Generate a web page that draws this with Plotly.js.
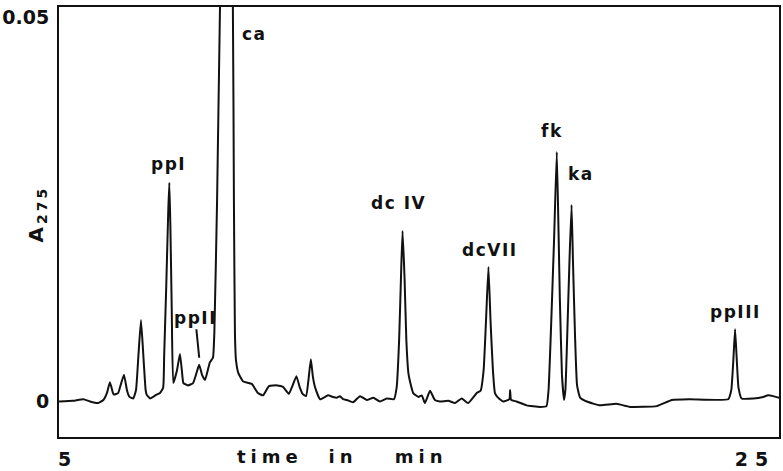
<!DOCTYPE html>
<html>
<head>
<meta charset="utf-8">
<script src="https://cdn.plot.ly/plotly-3.0.1.min.js"></script>
<style>
  html, body { margin: 0; padding: 0; background: #fff; }
  #chart { width: 783px; height: 471px; }
  .annotation-text { letter-spacing: 1.5px; }
  g.annotation[data-index="8"] text { letter-spacing: 3px; }
  g.annotation[data-index="9"] text,
  g.annotation[data-index="10"] text,
  g.annotation[data-index="11"] text { letter-spacing: 5px; }
  .xtick text { letter-spacing: 7px; }
</style>
</head>
<body>
<div id="chart"></div>
<script>
// retention time (min)
const time = [
  4.74, 5.15, 5.45, 5.64, 5.88, 6.03, 6.14, 6.22, 6.31, 6.34, 6.46, 6.55, 6.63, 6.72, 6.79, 6.90,
  6.98, 7.05, 7.125, 7.20, 7.26, 7.29, 7.39, 7.58, 7.68, 7.77, 7.80, 7.86, 7.92, 7.95, 7.98, 8.02,
  8.065, 8.17, 8.26, 8.32, 8.36, 8.49, 8.64, 8.76, 8.82, 8.90, 8.99, 9.13, 9.22, 9.26, 9.34, 9.425,
  9.61, 9.80, 9.83, 9.86, 9.89, 9.96, 10.10, 10.35, 10.53, 10.68, 10.85, 11.09, 11.26, 11.43, 11.54,
  11.65, 11.75, 11.83, 11.93, 12.00, 12.07, 12.13, 12.19, 12.34, 12.57, 12.71, 12.83, 12.92, 13.01,
  13.12, 13.30, 13.50, 13.70, 13.89, 14.08, 14.28, 14.49, 14.57, 14.64, 14.70, 14.74, 14.80, 14.85,
  14.91, 14.99, 15.05, 15.20, 15.30, 15.39, 15.54, 15.68, 15.83, 16.07, 16.27, 16.46, 16.65, 16.90,
  17.01, 17.10, 17.17, 17.24, 17.30, 17.37, 17.43, 17.52, 17.67, 17.85, 17.87, 17.90, 18.06, 18.35,
  18.74, 18.93, 18.99, 19.06, 19.15, 19.23, 19.28, 19.32, 19.38, 19.44, 19.48, 19.53, 19.60, 19.66,
  19.70, 19.76, 19.82, 19.91, 20.10, 20.49, 20.97, 21.36, 22.14, 22.58, 23.11, 24.22, 24.31, 24.37,
  24.42, 24.47, 24.52, 24.61, 24.95, 25.24, 25.38, 25.53, 25.70
];
// absorbance at 275 nm
const absorbance = [
  0.0000, 0.0001, 0.0003, 0.0000, -0.0002, 0.0002, 0.0012, 0.0025, 0.0011, 0.0009, 0.0011, 0.0024, 0.0035, 0.0014, 0.0006, 0.0004,
  0.0015, 0.0060, 0.0106, 0.0055, 0.0015, 0.0009, 0.0004, 0.0009, 0.0011, 0.0018, 0.0060, 0.0150, 0.0250, 0.0285, 0.0230, 0.0120,
  0.0024, 0.0040, 0.0062, 0.0038, 0.0024, 0.0021, 0.0024, 0.0040, 0.0048, 0.0035, 0.0028, 0.0051, 0.0057, 0.0089, 0.0262, 0.0514,
  0.0900, 0.0514, 0.0262, 0.0089, 0.0054, 0.0037, 0.0026, 0.0023, 0.0011, 0.0008, 0.0020, 0.0021, 0.0019, 0.0010, 0.0021,
  0.0033, 0.0018, 0.0010, 0.0007, 0.0028, 0.0055, 0.0032, 0.0019, 0.0003, 0.0008, 0.0006, 0.0005, 0.0007, 0.0003,
  0.0002, -0.0001, 0.0007, 0.0002, 0.0005, 0.0000, 0.0004, 0.0003, 0.0019, 0.0080, 0.0171, 0.0222, 0.0158, 0.0080,
  0.0037, 0.0020, 0.0011, 0.0006, 0.0008, -0.0002, 0.0014, 0.0002, 0.0000, 0.0001, -0.0002, 0.0004, -0.0002, 0.0011,
  0.0014, 0.0041, 0.0106, 0.0175, 0.0106, 0.0041, 0.0011, 0.0005, 0.0000, 0.0003, 0.0015, 0.0002, 0.0000, -0.0005,
  -0.0007, -0.0006, 0.0015, 0.0093, 0.0210, 0.0325, 0.0223, 0.0132, 0.0035, 0.0002, 0.0015, 0.0080, 0.0184, 0.0256,
  0.0184, 0.0087, 0.0021, 0.0005, 0.0000, -0.0005, -0.0003, -0.0007, -0.0006, 0.0002, 0.0003, 0.0003, 0.0015, 0.0054,
  0.0094, 0.0054, 0.0018, 0.0004, 0.0004, 0.0006, 0.0008, 0.0007, 0.0005
];
// peak labels
const peakNames = ['ppI', 'ppII', 'ca', 'dc IV', 'dcVII', 'fk', 'ka', 'ppIII'];
const labelTime = [7.94, 8.70, 10.44, 14.61, 17.29, 19.09, 19.93, 24.42];
const labelAbs  = [0.0309, 0.0109, 0.0479, 0.0259, 0.0197, 0.0352, 0.0296, 0.0117];
// ppII pointer target (just above the ppII peak)
const pointerTime = [8.82];
const pointerAbs  = [0.0057];
// axis ticks
const xTickVals = [5, 25];
const xTickText = ['5', '25'];
const yTickVals = [0, 0.05];
const yTickText = ['0', '0.05'];

const FONT = 'DejaVu Sans, Liberation Sans, Arial, sans-serif';
const INK = '#111111';

const annotations = peakNames.map((name, i) => {
  const base = {
    text: name, xref: 'x', yref: 'y',
    font: { family: FONT, size: 17, color: INK, weight: 'bold' },
    xanchor: 'center', yanchor: 'middle'
  };
  if (name === 'ppII') {
    return Object.assign(base, {
      x: pointerTime[0], y: pointerAbs[0], showarrow: true, arrowhead: 0,
      arrowwidth: 2, arrowcolor: INK, standoff: 0,
      axref: 'pixel', ayref: 'pixel', ax: -4, ay: -40
    });
  }
  return Object.assign(base, { x: labelTime[i], y: labelAbs[i], showarrow: false });
});

annotations.push({
  text: 'A<sub>275</sub>', xref: 'paper', yref: 'paper', x: -0.031, y: 0.519,
  textangle: -90, showarrow: false, xanchor: 'center', yanchor: 'middle',
  font: { family: FONT, size: 20, color: INK, weight: 'bold' }
});
[['time', 0.2931], ['in', 0.3938], ['min', 0.5021]].forEach(([w, px]) => {
  annotations.push({
    text: w, xref: 'paper', yref: 'paper', x: px, y: -0.046,
    showarrow: false, xanchor: 'center', yanchor: 'middle', borderpad: 0,
    font: { family: FONT, size: 18, color: INK, weight: 'bold' }
  });
});

const trace = {
  x: time, y: absorbance, type: 'scatter', mode: 'lines',
  line: { color: INK, width: 2, shape: 'spline', smoothing: 0.4 },
  hoverinfo: 'skip'
};

const layout = {
  width: 783, height: 471,
  margin: { l: 59, r: 4, t: 7, b: 34 },
  paper_bgcolor: '#ffffff', plot_bgcolor: '#ffffff',
  showlegend: false,
  xaxis: {
    range: [4.738, 25.699], tickmode: 'array', tickvals: xTickVals, ticktext: xTickText,
    showgrid: false, zeroline: false, showline: true, mirror: true, linecolor: INK, linewidth: 2,
    ticks: '', ticklabelstandoff: 4,
    tickfont: { family: FONT, size: 19, color: INK, weight: 'bold' }
  },
  yaxis: {
    range: [-0.00462, 0.05137], tickmode: 'array', tickvals: yTickVals, ticktext: yTickText,
    showgrid: false, zeroline: false, showline: true, mirror: true, linecolor: INK, linewidth: 2,
    ticks: '', ticklabelstandoff: 4,
    tickfont: { family: FONT, size: 19, color: INK, weight: 'bold' }
  },
  annotations: annotations
};

Plotly.newPlot('chart', [trace], layout, { staticPlot: true, displayModeBar: false });
</script>
</body>
</html>
